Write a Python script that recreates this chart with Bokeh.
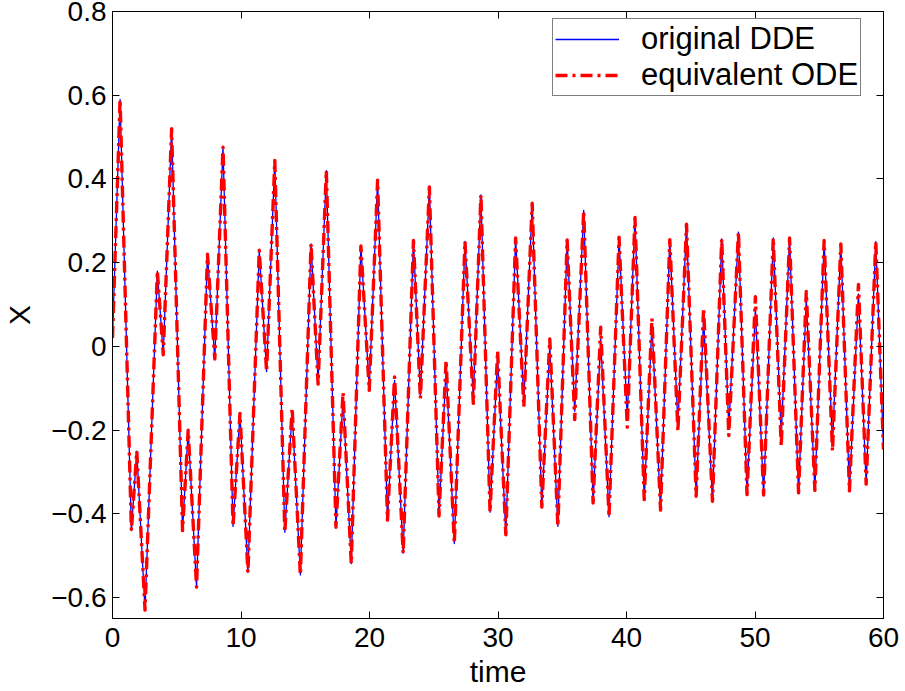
from bokeh.plotting import figure
from bokeh.models import (Range1d, LinearAxis, FixedTicker, CustomJSTickFormatter,
                          Legend, LegendItem, ColumnDataSource)
from bokeh.embed import file_html
from bokeh.resources import INLINE

# ---- data ----
time = [0.00, 0.59, 1.47, 1.89, 2.53, 3.49, 3.95, 4.60, 5.45, 5.89,
        6.54, 7.39, 7.96, 8.60, 9.38, 9.92, 10.54, 11.42, 11.99, 12.63,
        13.41, 13.98, 14.62, 15.45, 16.00, 16.64, 17.39, 17.94, 18.58, 19.33,
        19.98, 20.63, 21.40, 21.95, 22.62, 23.42, 23.96, 24.66, 25.41, 25.96,
        26.60, 27.43, 28.08, 28.67, 29.38, 29.97, 30.61, 31.37, 32.01, 32.66,
        33.41, 34.03, 34.66, 35.38, 35.97, 36.67, 37.40, 37.99, 38.64, 39.42,
        40.06, 40.66, 41.38, 41.98, 42.65, 43.37, 44.00, 44.67, 45.42, 46.00,
        46.69, 47.41, 47.96, 48.71, 49.38, 50.03, 50.67, 51.42, 52.04, 52.69,
        53.39, 53.99, 54.66, 55.38, 56.03, 56.68, 57.35, 58.05, 58.65, 59.40,
        60.00]

x_dde = [0.02, 0.59, -0.44, -0.25, -0.63, 0.18, -0.02, 0.52, -0.44, -0.20,
         -0.575, 0.22, -0.03, 0.476, -0.43, -0.16, -0.54, 0.23, -0.06, 0.444,
         -0.444, -0.155, -0.546, 0.245, -0.085, 0.42, -0.432, -0.122, -0.519, 0.24,
         -0.10, 0.397, -0.415, -0.081, -0.494, 0.253, -0.116, 0.381, -0.405, -0.05,
         -0.471, 0.251, -0.124, 0.362, -0.396, -0.025, -0.45, 0.259, -0.133, 0.342,
         -0.384, 0.0, -0.43, 0.254, -0.155, 0.325, -0.374, 0.018, -0.407, 0.261,
         -0.172, 0.308, -0.366, 0.055, -0.391, 0.255, -0.188, 0.292, -0.358, 0.067,
         -0.37, 0.257, -0.197, 0.273, -0.354, 0.088, -0.355, 0.259, -0.217, 0.259,
         -0.35, 0.112, -0.344, 0.253, -0.234, 0.245, -0.345, 0.125, -0.329, 0.25,
         -0.246]

x_ode = [0.02, 0.59, -0.44, -0.25, -0.63, 0.18, -0.02, 0.52, -0.44, -0.20,
         -0.575, 0.22, -0.03, 0.476, -0.43, -0.16, -0.54, 0.23, -0.06, 0.444,
         -0.444, -0.147, -0.546, 0.245, -0.09, 0.42, -0.432, -0.11, -0.519, 0.24,
         -0.105, 0.397, -0.415, -0.073, -0.494, 0.253, -0.125, 0.381, -0.405, -0.033,
         -0.471, 0.251, -0.136, 0.362, -0.396, -0.011, -0.45, 0.259, -0.145, 0.342,
         -0.384, 0.018, -0.43, 0.254, -0.175, 0.325, -0.374, 0.046, -0.407, 0.261,
         -0.193, 0.308, -0.366, 0.067, -0.391, 0.255, -0.203, 0.292, -0.358, 0.092,
         -0.37, 0.257, -0.213, 0.273, -0.354, 0.119, -0.355, 0.259, -0.238, 0.259,
         -0.35, 0.131, -0.344, 0.253, -0.25, 0.245, -0.345, 0.148, -0.329, 0.25,
         -0.246]

x_ticks = [0, 10, 20, 30, 40, 50, 60]
y_ticks = [-0.6, -0.4, -0.2, 0, 0.2, 0.4, 0.6, 0.8]
series_labels = ["original DDE", "equivalent ODE"]

FONT = "Liberation Sans"

src = ColumnDataSource(dict(t=time, dde=x_dde, ode=x_ode))

p = figure(width=905, height=691, output_backend="svg", toolbar_location=None,
           x_range=Range1d(0, 60), y_range=Range1d(-0.65, 0.8),
           min_border_left=110, min_border_right=22, min_border_top=11,
           min_border_bottom=73, x_axis_label="time", y_axis_label="X",
           background_fill_color="white", border_fill_color="white")

p.xgrid.visible = False
p.ygrid.visible = False
p.outline_line_color = "black"
p.outline_line_width = 1

r1 = p.line("t", "dde", source=src, line_color="#0000ff", line_width=1.3,
            line_join="round")
r2 = p.line("t", "ode", source=src, line_color="#ff0000", line_width=3.4,
            line_dash="12 5 3 5", line_join="round")

xt = FixedTicker(ticks=x_ticks)
yt = FixedTicker(ticks=y_ticks)
xfmt = CustomJSTickFormatter(code="return tick.toFixed(0);")
yfmt = CustomJSTickFormatter(code="""
if (Math.abs(tick) < 1e-9) { return '0'; }
return tick.toFixed(1).replace('-', '\u2212');
""")
blank = CustomJSTickFormatter(code="return '';")

def style(ax, show):
    ax.axis_line_color = "black"
    ax.axis_line_width = 1
    ax.major_tick_in = 7
    ax.major_tick_out = 0
    ax.major_tick_line_color = "black"
    ax.minor_tick_line_color = None
    ax.major_label_text_font = FONT
    ax.major_label_text_color = "black"
    if show:
        ax.major_label_text_font_size = "28px"
    else:
        ax.major_label_text_font_size = "1px"
        ax.major_label_standoff = 0

p.xaxis.ticker = xt
p.xaxis.formatter = xfmt
p.yaxis.ticker = yt
p.yaxis.formatter = yfmt
style(p.xaxis[0], True)
style(p.yaxis[0], True)
p.xaxis.major_label_standoff = 9
p.yaxis.major_label_standoff = 6
for ax in (p.xaxis[0], p.yaxis[0]):
    ax.axis_label_text_font = FONT
    ax.axis_label_text_font_size = "30px"
    ax.axis_label_text_font_style = "normal"
    ax.axis_label_text_color = "black"
p.xaxis.axis_label_standoff = 5
p.yaxis.axis_label_standoff = 12

top = LinearAxis(ticker=xt, formatter=blank)
right = LinearAxis(ticker=yt, formatter=blank)
style(top, False)
style(right, False)
p.add_layout(top, "above")
p.add_layout(right, "right")

legend = Legend(items=[LegendItem(label=series_labels[0], renderers=[r1]),
                       LegendItem(label=series_labels[1], renderers=[r2])],
                location=(440, 522), label_text_font=FONT,
                label_text_font_size="31px", label_text_color="black",
                glyph_width=64, glyph_height=30, label_standoff=22,
                padding=2, spacing=0, margin=0,
                border_line_color="black", border_line_width=1,
                background_fill_color="white", background_fill_alpha=1)
p.add_layout(legend)

open("out.html", "w").write(file_html(p, INLINE))
